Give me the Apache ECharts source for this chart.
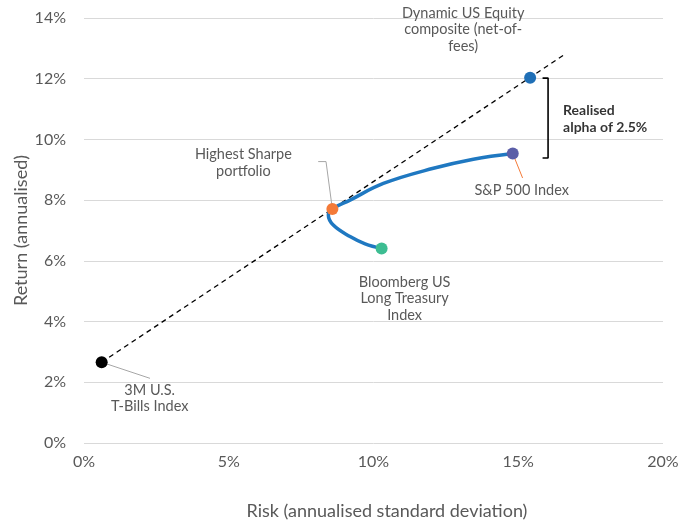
<!DOCTYPE html>
<html><head><meta charset="utf-8">
<script src="https://cdn.jsdelivr.net/npm/echarts@6/dist/echarts.min.js"></script>
<style>html,body{margin:0;padding:0;background:#fff}#c{width:694px;height:521px}</style>
</head><body><div id="c"></div>
<script>
// Efficient frontier (risk %, return %)
const frontierRisk   = [10.28, 9.71, 9.19, 8.61, 8.44, 8.58, 9.19, 10.34, 12.07, 13.45, 14.81];
const frontierReturn = [6.41, 6.56, 6.80, 7.18, 7.51, 7.71, 8.00, 8.55, 9.05, 9.35, 9.54];
// Named portfolios
const pointNames  = ['3M U.S.\nT-Bills Index', 'Highest Sharpe\nportfolio', 'Bloomberg US\nLong Treasury\nIndex', 'S&P 500 Index', 'Dynamic US Equity\ncomposite (net-of-\nfees)'];
const pointRisk   = [0.61, 8.58, 10.28, 14.81, 15.41];
const pointReturn = [2.66, 7.71, 6.41, 9.54, 12.03];
// Capital market line
const cmlRisk   = [0.61, 16.59];
const cmlReturn = [2.66, 12.79];
// Alpha bracket
const bracketRisk   = [15.84, 16.03, 16.03, 15.84];
const bracketReturn = [12.02, 12.02, 9.39, 9.39];
const alphaPos  = [16.03, 10.66];
const alphaText = 'Realised\nalpha of 2.5%';
// Leader lines
const leaderTbills = [[0.61, 2.66], [2.28, 2.13]];
const leaderSharpe = [[8.09, 9.27], [8.36, 9.27], [8.57, 7.77]];
const leaderSP     = [[14.81, 9.54], [15.15, 8.73]];
const xTicks = [0, 5, 10, 15, 20];
const yTicks = [0, 2, 4, 6, 8, 10, 12, 14];

const pointColors = ['#000000', '#f47a38', '#3dbd92', '#5b5ea8', '#1f6fb6'];
const labelOffsets = [[48, 36], [-89, -46], [23, 50], [9, 37], [-67, -48]];
const FONT = 'Lato';
const GRAY = '#595959';

const zip = (a, b) => a.map((v, i) => [v, b[i]]);

const chart = echarts.init(document.getElementById('c'), null, {renderer: 'canvas'});
chart.setOption({
  animation: false,
  grid: {left: 84, right: 31, top: 18, bottom: 78, containLabel: false, outerBoundsMode: 'none'},
  xAxis: {
    type: 'value', min: xTicks[0], max: xTicks[xTicks.length - 1], interval: 5,
    name: 'Risk (annualised standard deviation)', nameLocation: 'middle', nameGap: 59, nameMoveOverlap: false,
    nameTextStyle: {fontFamily: FONT, fontSize: 18, color: GRAY, padding: [0, 0, 0, 27]},
    axisLine: {show: false}, axisTick: {show: false}, splitLine: {show: false},
    axisLabel: {formatter: '{value}%', fontFamily: FONT, fontSize: 16, color: GRAY, margin: 11}
  },
  yAxis: {
    type: 'value', min: yTicks[0], max: yTicks[yTicks.length - 1], interval: 2,
    name: 'Return (annualised)', nameLocation: 'middle', nameGap: 54, nameMoveOverlap: false,
    nameTextStyle: {fontFamily: FONT, fontSize: 18, color: GRAY},
    axisLine: {show: false}, axisTick: {show: false},
    splitLine: {lineStyle: {color: '#d9d9d9', width: 1}},
    axisLabel: {formatter: '{value}%', fontFamily: FONT, fontSize: 16, color: GRAY, margin: 18}
  },
  series: [
    {type: 'line', data: zip(cmlRisk, cmlReturn), symbol: 'none', silent: true,
      lineStyle: {color: '#000', width: 1.3, type: [5, 4]}, z: 2},
    {type: 'line', data: zip(frontierRisk, frontierReturn), symbol: 'none', smooth: 0.4, silent: true,
      lineStyle: {color: '#1f78c1', width: 3.5}, z: 3},
    {type: 'line', data: leaderTbills, symbol: 'none', silent: true, lineStyle: {color: '#a6a6a6', width: 1}, z: 2},
    {type: 'line', data: leaderSharpe, symbol: 'none', silent: true, lineStyle: {color: '#a6a6a6', width: 1}, z: 2},
    {type: 'line', data: leaderSP, symbol: 'none', silent: true, lineStyle: {color: '#f47a38', width: 1}, z: 2},
    {type: 'line', symbol: 'none', silent: true, lineStyle: {color: '#000', width: 1.6}, z: 2,
      data: zip(bracketRisk, bracketReturn)},
    {type: 'scatter', symbolSize: 2, silent: true, itemStyle: {color: 'rgba(0,0,0,0)'}, z: 6,
      label: {show: true, position: 'right', distance: 14, formatter: alphaText,
        fontFamily: FONT, fontSize: 14, fontWeight: 'bold', color: '#000', lineHeight: 17, align: 'left'},
      data: [alphaPos]},
    {type: 'scatter', symbolSize: 12, z: 5, silent: true,
      data: pointRisk.map((r, i) => ({
        value: [r, pointReturn[i]],
        itemStyle: {color: pointColors[i], opacity: 1},
        label: {show: true, formatter: pointNames[i], position: 'inside', offset: labelOffsets[i],
          align: 'center', verticalAlign: 'middle', fontFamily: FONT, fontSize: 14.5, color: GRAY, lineHeight: 16.5}
      }))}
  ]
});
</script></body></html>
